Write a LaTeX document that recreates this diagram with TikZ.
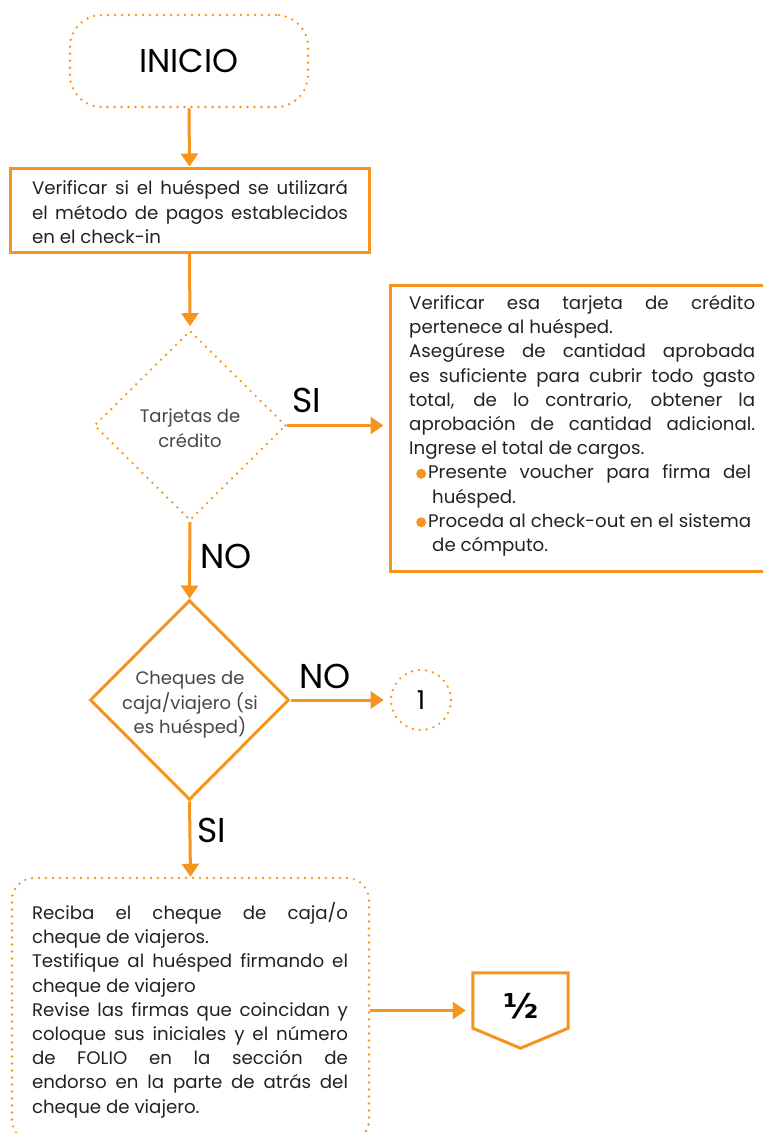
\documentclass[tikz,border=0pt]{standalone}
\usepackage{fontspec}
\setmainfont{Poppins}
\newfontfamily\halffont{DejaVu Sans}
\usetikzlibrary{shapes.geometric,arrows.meta,calc}
\definecolor{org}{RGB}{247,148,29}
\definecolor{txt}{RGB}{34,34,34}
\definecolor{dtxt}{RGB}{70,70,70}
\newcommand{\jl}[2]{\makebox[#1][s]{#2}}
\newcommand{\obul}{\tikz[baseline=0pt,x=1cm,y=1cm]\fill[org] (0,5pt) circle[radius=5pt];}
\begin{document}
\begin{tikzpicture}[x=1pt,y=-1pt,
  solidbox/.style={draw=org,line width=3pt},
  dotbox/.style={draw=org,line width=2.6pt,line cap=round,dash pattern=on 0pt off 7pt},
  arr/.style={draw=org,line width=3pt,-{Triangle[length=13pt,width=17pt]}},
  body/.style={text=txt,font=\fontsize{18.2}{24.2}\selectfont,align=left,inner sep=0pt},
  lbl/.style={text=black,font=\fontsize{34.5}{38}\selectfont,inner sep=0pt},
  dec/.style={diamond,aspect=1,inner sep=0pt},
  dtext/.style={text=dtxt,font=\fontsize{18}{24.5}\selectfont,align=center,inner sep=0pt}]
\useasboundingbox (0,0) rectangle (763,1133);
% start
\node[dotbox,rounded corners=32pt,minimum width=238pt,minimum height=92pt,
  font=\fontsize{33}{38}\selectfont,text=black] (start) at (189,61) {INICIO};
% box 1
\node[solidbox,minimum width=359pt,minimum height=84pt] (b1) at (189.5,210) {};
\node[body] (t1) at (190,212) {\jl{316pt}{Verificar si el huésped se utilizará}\\
\jl{316pt}{el método de pagos establecidos}\\
en el check-in};
% diamond 1
\node[dec,dotbox,minimum width=192pt,minimum height=190pt] (d1) at (190,425.5) {};
\node[dtext] (t2) at (190,428) {Tarjetas de\\crédito};
% right box
\node[solidbox,minimum width=400pt,minimum height=286pt,anchor=north west] (b2) at (388.5,283.5) {};
\node[body,anchor=north west] (t3) at (409,295) {\jl{346pt}{Verificar esa tarjeta de crédito}\\
pertenece al huésped.\\
\jl{346pt}{Asegúrese de cantidad aprobada}\\
\jl{346pt}{es suficiente para cubrir todo gasto}\\
\jl{346pt}{total, de lo contrario, obtener la}\\
\jl{346pt}{aprobación de cantidad adicional.}\\
Ingrese el total de cargos.\\
\hspace*{7pt}\obul\hspace{2pt}\jl{323pt}{Presente voucher para firma del}\\
\hspace*{23pt}huésped.\\
\hspace*{7pt}\obul\hspace{2pt}\jl{323pt}{Proceda al check-out en el sistema}\\
\hspace*{23pt}de cómputo.};
% diamond 2
\node[dec,solidbox,minimum width=199pt,minimum height=200pt] (d2) at (189.5,700) {};
\node[dtext] (t4) at (190,705) {Cheques de\\caja/viajero (si\\es huésped)};
% connector circle
\node[circle,dotbox,minimum size=60pt,inner sep=0pt,font=\fontsize{26}{30}\selectfont,text=black] (c1) at (421,700) {1};
% bottom box
\node[dotbox,rounded corners=22pt,minimum width=357pt,minimum height=264pt] (b3) at (190.5,1010) {};
\node[body] (t5) at (190,1010) {\jl{316pt}{Reciba el cheque de caja/o}\\
cheque de viajeros.\\
\jl{316pt}{Testifique al huésped firmando el}\\
cheque de viajero\\
\jl{316pt}{Revise las firmas que coincidan y}\\
\jl{316pt}{coloque sus iniciales y el número}\\
\jl{316pt}{de FOLIO en la sección de}\\
\jl{316pt}{endorso en la parte de atrás del}\\
cheque de viajero.};
% off-page connector
\node[minimum width=95pt,minimum height=75pt,inner sep=0pt] (op) at (520.5,1010.5) {};
\draw[solidbox,line join=miter] (op.north west) -- (op.north east) -- ([yshift=20pt]op.south east) -- (op.south) -- ([yshift=20pt]op.south west) -- cycle;
\node[font=\halffont\bfseries\fontsize{34}{38}\selectfont,text=black,inner sep=0pt] (half) at (521,1006) {½};
% connectors
\draw[arr] (start.south) -- (b1.north);
\draw[arr] (b1.south) -- ([yshift=3pt]d1.north);
\draw[arr] (d1.east) -- ([xshift=-5pt]b2.west |- d1.east);
\draw[arr] (d1.south) -- (d2.north);
\draw[arr] (d2.east) -- ([xshift=-6pt]c1.west);
\draw[arr] (d2.south) -- (b3.north);
\draw[arr] (b3.east |- op.west) -- ([xshift=-7pt]op.west);
% labels
\node[lbl] (l1) at (307,400) {SI};
\node[lbl] (l2) at (226,556) {NO};
\node[lbl] (l3) at (325,676) {NO};
\node[lbl] (l4) at (212,830) {SI};
\end{tikzpicture}
\end{document}
